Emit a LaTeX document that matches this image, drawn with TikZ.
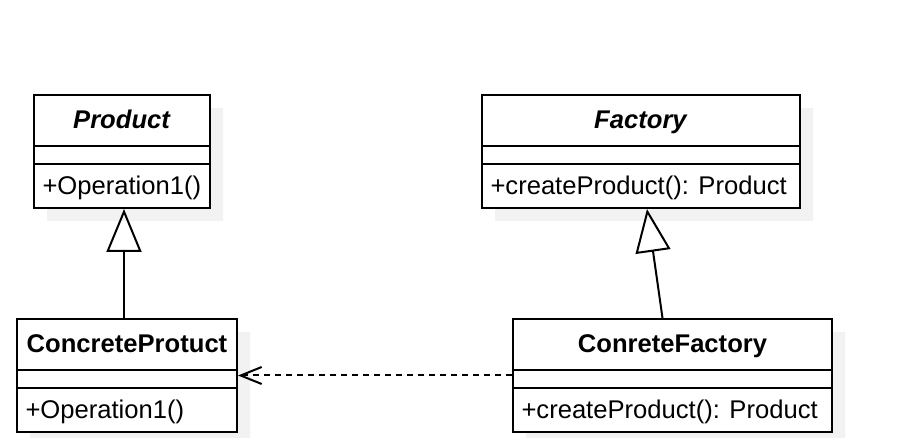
\documentclass[tikz,border=0pt]{standalone}
\usepackage{fontspec}
\setmainfont{Liberation Sans}
\usetikzlibrary{calc}
\usetikzlibrary{arrows.meta}
\usetikzlibrary{shapes.multipart}
\usetikzlibrary{shadows}
\definecolor{sh}{RGB}{242,242,242}
\newcommand\hd{\rule[-16pt]{0pt}{49pt}}
\newcommand\es{\rule{0pt}{16pt}}
\newcommand\op{\rule[-12pt]{0pt}{42pt}}

\begin{document}
\begin{tikzpicture}[
    x=1pt, y=-1pt,
    font=\fontsize{25.6}{30}\selectfont,
    a/.style={
        line width=2pt,
        color=black,
    },
    cl/.style={
        rectangle split, rectangle split parts=3,
        rectangle split part align={center,left,left},
        draw, fill=white, line width=2pt,
        inner xsep=8.5pt, inner ysep=0pt,
        general shadow={fill=sh, shadow xshift=13pt, shadow yshift=-13pt},
        anchor=north west
    },
    ge/.style={
        a,-{Triangle[open,length=43pt,width=35pt]}
    },
    de/.style={
        a,dash pattern=on 6pt off 5pt,
        -{Straight Barb[length=21pt,width=17pt]}
    }
]
    \useasboundingbox (0,0) rectangle (914,438);

    \node [cl, minimum width=176pt] (p) at ( 33,  94)
        {\textbf{\textit{Product}}\hd
         \nodepart{two}\es
         \nodepart{three}+Operation1()\op};
    \node [cl, minimum width=318pt] (f) at (481,  94)
        {\textbf{\textit{Factory}}\hd
         \nodepart{two}\es
         \nodepart{three}+createProduct(): Product\op};
    \node [cl, minimum width=220pt] (cp) at ( 16, 318)
        {\textbf{ConcreteProtuct}\hd
         \nodepart{two}\es
         \nodepart{three}+Operation1()\op};
    \node [cl, minimum width=319pt] (cf) at (512, 318)
        {\textbf{ConreteFactory}\hd
         \nodepart{two}\es
         \nodepart{three}+createProduct(): Product\op};

    \draw [ge] ($(cp.north)+(-3,0)$) -- ($(p.south)+(2,0)$);
    \draw [ge] ($(cf.north)+(-10,0)$) -- ($(f.south)+(6,0)$);
    \draw [de] (cf.west) -- (cp.east |- cf.west);

\end{tikzpicture}
\end{document}
